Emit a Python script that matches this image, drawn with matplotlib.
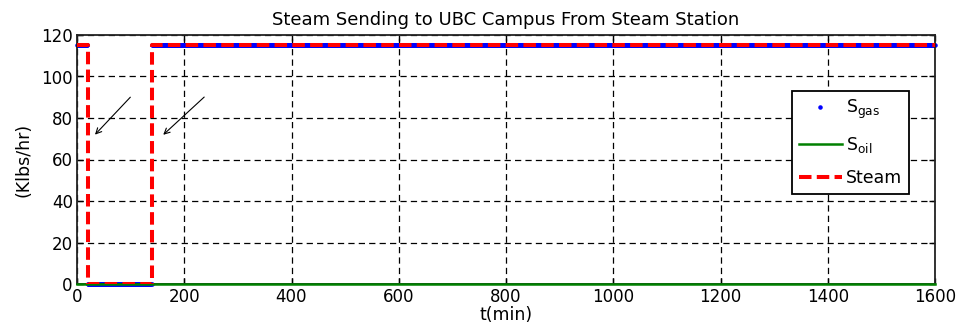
import matplotlib
matplotlib.use("Agg")
import matplotlib.pyplot as plt
import numpy as np

plt.rcParams['font.family'] = ['DejaVu Sans']
plt.rcParams['lines.scale_dashes'] = False
plt.rcParams['mathtext.default'] = 'regular'

# switch-over times (min) and flow levels (Klbs/hr)
t_end = 1600
t_gas_off = 20
t_gas_on = 140
gas_level = 115
oil_level = 0

steam_t = [0, t_gas_off, t_gas_off, t_gas_on, t_gas_on, t_end]
steam_val = [115, 115, 0, 0, 115, 115]

oil_t = [0, t_end]
oil_val = [oil_level, oil_level]

# gas flow logged once per minute
gas_t = np.arange(0, t_end + 1, 1)
gas_val = np.where((gas_t < t_gas_off) | (gas_t >= t_gas_on), gas_level, 0)

x_ticks = list(range(0, 1601, 200))
y_ticks = list(range(0, 121, 20))

fig = plt.figure(figsize=(9.56, 3.36), dpi=100)
ax = fig.add_axes([77 / 956, 52 / 336, 858 / 956, 249 / 336])

ax.plot(gas_t, gas_val, linestyle='none', marker='.', markersize=4.5,
        color='#0000ff', label=r'S$_{gas}$', clip_on=False, zorder=2)
ax.plot(oil_t, oil_val, color='#008000', linewidth=1.8,
        label=r'S$_{oil}$', clip_on=False, zorder=3)
ax.plot(steam_t, steam_val, color='#ff0000', linewidth=2.9,
        dashes=(9, 3.8), label='Steam', zorder=4)

ax.annotate('', xy=(30, 71), xytext=(103, 91),
            arrowprops=dict(arrowstyle='->', color='black', lw=0.8))
ax.annotate('', xy=(157, 71), xytext=(241, 91),
            arrowprops=dict(arrowstyle='->', color='black', lw=0.8))

ax.set_xlim(0, 1600)
ax.set_ylim(0, 120)
ax.set_xticks(x_ticks)
ax.set_yticks(y_ticks)
ax.tick_params(direction='in', top=True, right=True, labelsize=12,
               length=4, width=1, pad=3)
ax.grid(True, color='black', linestyle=(0, (4.5, 3)), linewidth=0.9)
for s in ax.spines.values():
    s.set_linewidth(1.3)
    s.set_color('#222222')

ax.set_title('Steam Sending to UBC Campus From Steam Station', fontsize=13, pad=7)
ax.set_xlabel('t(min)', fontsize=12.5, labelpad=0)
ax.set_ylabel('(Klbs/hr)', fontsize=12.5, labelpad=6)

leg = ax.legend(loc='upper left', bbox_to_anchor=(0.833, 0.775), fontsize=12.5,
                frameon=True, fancybox=False, edgecolor='black', framealpha=1,
                handlelength=2.5, handletextpad=0.2, labelspacing=0.8,
                borderpad=0.4, borderaxespad=0, numpoints=1)
leg.get_frame().set_linewidth(1.3)

fig.savefig('out.png', dpi=100)
